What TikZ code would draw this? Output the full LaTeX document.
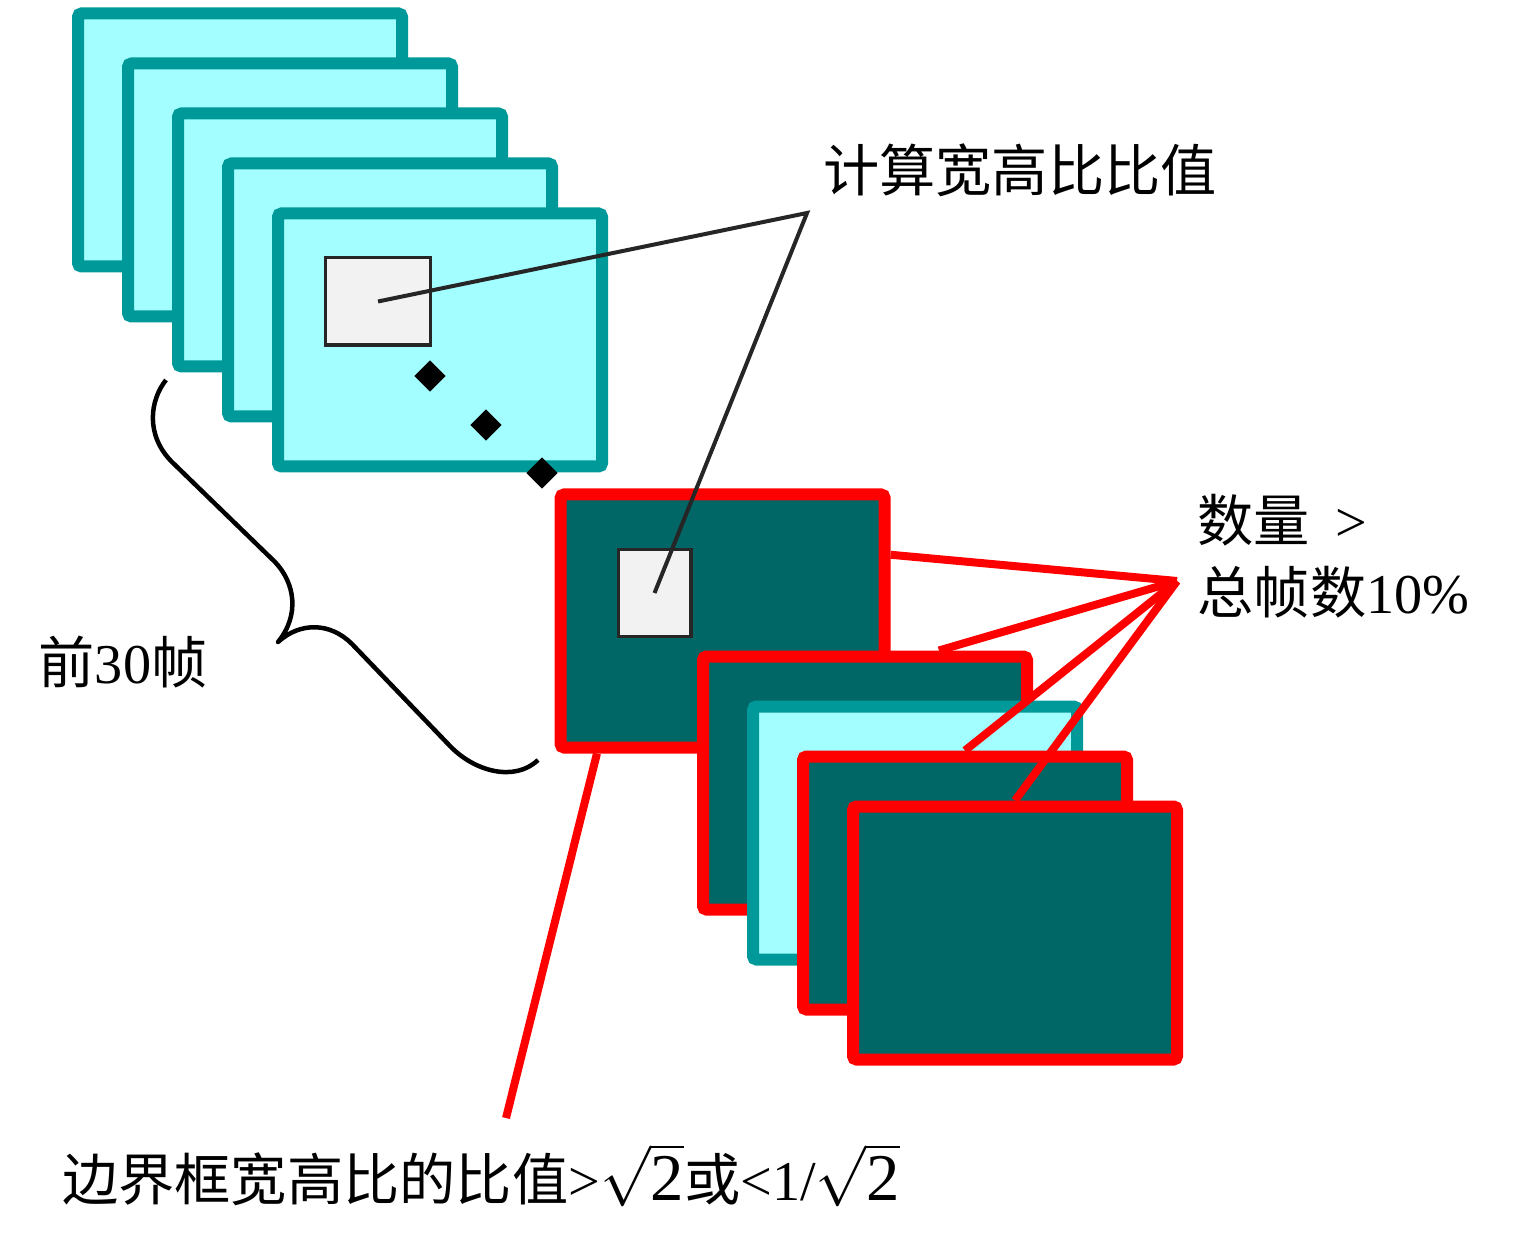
\documentclass[tikz,border=0pt]{standalone}
\usepackage{fontspec}
\setmainfont{Liberation Serif}
\newfontfamily\cjk{Noto Sans CJK SC}
\usetikzlibrary{calc,shadows}

\definecolor{framefill}{HTML}{A3FFFF}
\definecolor{frameedge}{HTML}{009999}
\definecolor{darkfill}{HTML}{006666}
\definecolor{boxfill}{HTML}{F2F2F2}
\definecolor{boxedge}{HTML}{262626}

\newcommand{\bigtwo}{\mbox{\fontsize{19pt}{20pt}\selectfont 2}}

\tikzset{
  tealframe/.style={draw=frameedge, fill=framefill, line width=0.12cm, minimum width=3.24cm, minimum height=2.53cm, inner sep=0pt, rounded corners=1pt, drop shadow={shadow xshift=0.03cm, shadow yshift=-0.04cm, opacity=0.25}},
  redframe/.style={tealframe, draw=red, fill=darkfill},
  bbox/.style={draw=boxedge, fill=boxfill, line width=0.035cm, inner sep=0pt},
  dotmark/.style={fill=black, minimum size=0.22cm, inner sep=0pt, rotate=45},
  pointer/.style={draw=boxedge, line width=0.04cm},
  redline/.style={draw=red, line width=0.08cm},
  lbl/.style={font=\fontsize{16pt}{20.5pt}\selectfont, inner sep=0pt}
}

\begin{document}
\begin{tikzpicture}
    \useasboundingbox (0,0) rectangle (15.19,-12.48);

    % first 30 frames
    \foreach \i in {1,...,5}
        \node[tealframe] (f\i) at ({2.40+0.5*(\i-1)},{-1.40-0.5*(\i-1)}) {};
    \node[bbox, minimum width=1.05cm, minimum height=0.875cm] (g1) at (3.78,-3.015) {};
    \node[dotmark] (dot1) at (4.30,-3.76) {};
    \node[dotmark] (dot2) at (4.86,-4.25) {};
    \node[dotmark] (dot3) at (5.42,-4.73) {};

    % flagged frames
    \node[redframe] (d1) at (7.226,-6.21) {};
    \node[redframe] (d2) at (8.65,-7.83) {};
    \node[tealframe] (t1) at (9.15,-8.33) {};
    \node[redframe] (d3) at (9.65,-8.83) {};
    \node[redframe] (d4) at (10.15,-9.33) {};
    \node[bbox, minimum width=0.725cm, minimum height=0.865cm] (g2) at (6.545,-5.93) {};

    \coordinate (ratiotip) at (8.07,-2.13);
    \coordinate (counttip) at (11.77,-5.81);
    \coordinate (sizetip) at (5.06,-11.18);

    \draw[pointer] (g1.center) -- (ratiotip) -- (g2.center);
    \draw[redline] ($(d1.north east)!0.25!(d1.south east)$) -- (counttip);
    \draw[redline] (counttip) -- ($(d2.north west)!0.72!(d2.north east)$);
    \draw[redline] (counttip) -- (d3.north);
    \draw[redline] (counttip) -- (d4.north);
    \draw[redline] ($(d1.south west)!0.126!(d1.south east)$) -- (sizetip);

    % brace
    \draw[line width=0.045cm, line join=round] (1.66,-3.80) .. controls (1.50,-4.00) and (1.45,-4.35) .. (1.72,-4.62)
        -- (2.75,-5.62) .. controls (2.95,-5.83) and (3.00,-6.15) .. (2.78,-6.42)
        .. controls (3.00,-6.22) and (3.30,-6.22) .. (3.52,-6.44)
        -- (4.50,-7.46) .. controls (4.75,-7.72) and (5.15,-7.82) .. (5.38,-7.60);

    % labels
    \node[lbl] (ratiolbl) at (10.20,-1.70) {\cjk 计算宽高比比值};
    \node[lbl, anchor=west, align=left] (countlbl) at (11.97,-5.56) {{\cjk 数量}\hspace{0.25cm}>\\{\cjk 总帧数}10\%};
    \node[lbl] (framelbl) at (1.23,-6.62) {{\cjk 前}30{\cjk 帧}};
    \node[lbl] (sizelbl) at (4.81,-11.75) {{\cjk 边界框宽高比的比值}>$\sqrt{\bigtwo}${\cjk 或}<1/$\sqrt{\bigtwo}$};
\end{tikzpicture}
\end{document}
